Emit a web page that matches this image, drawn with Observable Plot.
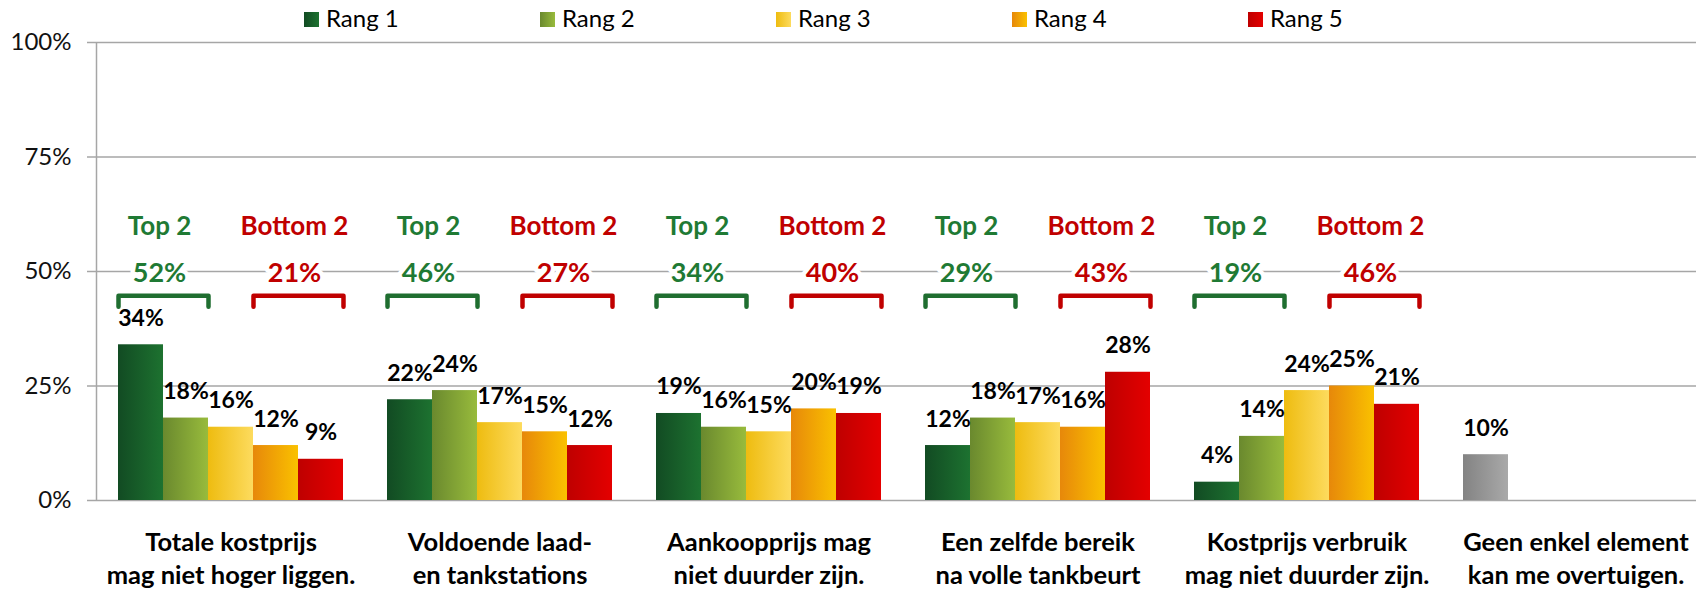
<!DOCTYPE html>
<html>
<head>
<meta charset="utf-8">
<script src="https://cdn.jsdelivr.net/npm/d3@7"></script>
<script src="https://cdn.jsdelivr.net/npm/@observablehq/plot@0.6"></script>
<style>
  html, body { margin: 0; padding: 0; background: #fff; overflow: hidden; width: 1696px; height: 593px; }
  #legend { position: relative; height: 30px; width: 1696px; font-family: Lato, sans-serif; font-size: 24px; color: #000; }
  .item { position: absolute; top: 0; height: 30px; display: flex; align-items: center; }
  .sw { display: inline-block; width: 15px; height: 15px; margin-right: 7px; margin-top: 9px; }
  .lt { line-height: 30px; margin-top: 5px; }
  #chart svg { max-width: none !important; display: block; }
</style>
</head>
<body>
<div id="legend"></div>
<div id="chart"></div>
<script>
// ---- data ----
const categories = ["C1", "C2", "C3", "C4", "C5", "C6"];
const categoryLabels = [
  "Totale kostprijs\nmag niet hoger liggen.",
  "Voldoende laad-\nen tankstations",
  "Aankoopprijs mag\nniet duurder zijn.",
  "Een zelfde bereik\nna volle tankbeurt",
  "Kostprijs verbruik\nmag niet duurder zijn.",
  "Geen enkel element\nkan me overtuigen."
];
const seriesNames = ["Rang 1", "Rang 2", "Rang 3", "Rang 4", "Rang 5"];
const rang1 = [34, 22, 19, 12, 4];
const rang2 = [18, 24, 16, 18, 14];
const rang3 = [16, 17, 15, 17, 24];
const rang4 = [12, 15, 20, 16, 25];
const rang5 = [9, 12, 19, 28, 21];
const geenEnkel = [10];           // "Geen enkel element" (single grey bar)
const top2 = [52, 46, 34, 29, 19];
const bottom2 = [21, 27, 40, 43, 46];
const yTicks = [0, 25, 50, 75, 100];

// ---- styling / layout constants ----
const gradients = {
  g1: ["#124b23", "#1d7230"],
  g2: ["#6a892e", "#98bb3c"],
  g3: ["#eebc10", "#fddb5e"],
  g4: ["#e7880a", "#fac100"],
  g5: ["#be0000", "#e40000"],
  gG: ["#838383", "#a9a9a9"]
};
const gradIds = ["g1", "g2", "g3", "g4", "g5"];
const GREEN = "#1f7a34", GREEN_BR = "#1f6e30", RED = "#c00000";
const LEVEL_TITLE = 59.8, LEVEL_PCT = 49.6, BR_TOP = 44.7, BR_FOOT = 42.3;
const xDomain = [0.011, 5.989];
const FONT = "Lato, sans-serif";

// ---- legend ----
const legend = document.getElementById("legend");
seriesNames.forEach((name, i) => {
  const [a, b] = gradients[gradIds[i]];
  const it = document.createElement("div");
  it.className = "item";
  it.style.left = (304 + 236 * i) + "px";
  it.innerHTML = `<span class="sw" style="background:linear-gradient(to right, ${a}, ${b})"></span><span class="lt">${name}</span>`;
  legend.appendChild(it);
});

// ---- tables ----
const seriesValues = [rang1, rang2, rang3, rang4, rang5];
const bars = [];
seriesValues.forEach((vals, r) => vals.forEach((v, c) => bars.push({cat: categories[c], rank: r + 1, value: v, grad: gradIds[r]})));
geenEnkel.forEach(v => bars.push({cat: categories[5], rank: 1, value: v, grad: "gG"}));

const summaries = [];
top2.forEach((v, c) => summaries.push({cat: categories[c], kind: "top", title: "Top 2", value: v, center: 1.5, from: 0.5, to: 2.5}));
bottom2.forEach((v, c) => summaries.push({cat: categories[c], kind: "bottom", title: "Bottom 2", value: v, center: 4.5, from: 3.5, to: 5.5}));

const bracketPts = [];
summaries.forEach(s => {
  const id = s.cat + s.kind;
  bracketPts.push({id, cat: s.cat, kind: s.kind, x: s.from, y: BR_FOOT});
  bracketPts.push({id, cat: s.cat, kind: s.kind, x: s.from, y: BR_TOP});
  bracketPts.push({id, cat: s.cat, kind: s.kind, x: s.to, y: BR_TOP});
  bracketPts.push({id, cat: s.cat, kind: s.kind, x: s.to, y: BR_FOOT});
});

const barMarks = Object.keys(gradients).map(g =>
  Plot.rectY(bars.filter(d => d.grad === g), {
    fx: "cat", x1: d => d.rank - 0.5, x2: d => d.rank + 0.5, y1: 0, y2: "value",
    fill: `url(#${g})`
  })
);

const chart = Plot.plot({
  width: 1710,
  height: 563,
  marginLeft: 96,
  marginRight: 0,
  marginTop: 12,
  marginBottom: 93,
  style: {fontFamily: FONT, background: "white", overflow: "visible", maxWidth: "none"},
  fx: {domain: categories, axis: null, padding: 0},
  x: {domain: xDomain, axis: null},
  y: {domain: [0, 100], axis: null},
  marks: [
    Plot.gridY(yTicks, {stroke: "#a6a6a6", strokeOpacity: 1, strokeWidth: 1.5}),
    Plot.axisY(yTicks, {tickFormat: d => d + "%", tickSize: 9, tickPadding: 16, fontSize: 24, stroke: "#a6a6a6", strokeWidth: 1.5, fill: "#111", label: null}),
    Plot.ruleX([categories[0]], {fx: d => d, x: xDomain[0], y1: 0, y2: 100, stroke: "#a6a6a6", strokeWidth: 1.5}),
    ...barMarks,
    Plot.text(bars, {fx: "cat", x: "rank", y: "value", text: d => d.value + "%", lineAnchor: "bottom", dy: -19, fontSize: 23, fontWeight: "bold", fill: "#000"}),
    Plot.line(bracketPts, {fx: "cat", x: "x", y: "y", z: "id", stroke: d => d.kind === "top" ? GREEN_BR : RED, strokeWidth: 4.5, strokeLinejoin: "round"}),
    Plot.text(summaries, {fx: "cat", x: "center", y: LEVEL_TITLE, text: "title", dx: -4, fontSize: 26, fontWeight: "bold", fill: d => d.kind === "top" ? GREEN : RED}),
    Plot.text(summaries, {fx: "cat", x: "center", y: LEVEL_PCT, text: d => d.value + "%", dx: -4, fontSize: 27, fontWeight: "bold", fill: d => d.kind === "top" ? GREEN : RED, stroke: "white", strokeWidth: 9}),
    Plot.text(categories, {fx: d => d, text: (d, i) => categoryLabels[i], frameAnchor: "bottom", lineAnchor: "top", dy: 27, lineHeight: 1.3, fontSize: 25.5, fontWeight: "bold", fill: "#000"})
  ]
});

// gradient definitions
const ns = "http://www.w3.org/2000/svg";
const defs = document.createElementNS(ns, "defs");
Object.entries(gradients).forEach(([id, [a, b]]) => {
  const lg = document.createElementNS(ns, "linearGradient");
  lg.setAttribute("id", id);
  lg.setAttribute("x1", "0"); lg.setAttribute("x2", "1"); lg.setAttribute("y1", "0"); lg.setAttribute("y2", "0");
  [[0, a], [1, b]].forEach(([o, c]) => {
    const s = document.createElementNS(ns, "stop");
    s.setAttribute("offset", o);
    s.setAttribute("stop-color", c);
    lg.appendChild(s);
  });
  defs.appendChild(lg);
});
chart.insertBefore(defs, chart.firstChild);
document.getElementById("chart").appendChild(chart);
</script>
</body>
</html>
